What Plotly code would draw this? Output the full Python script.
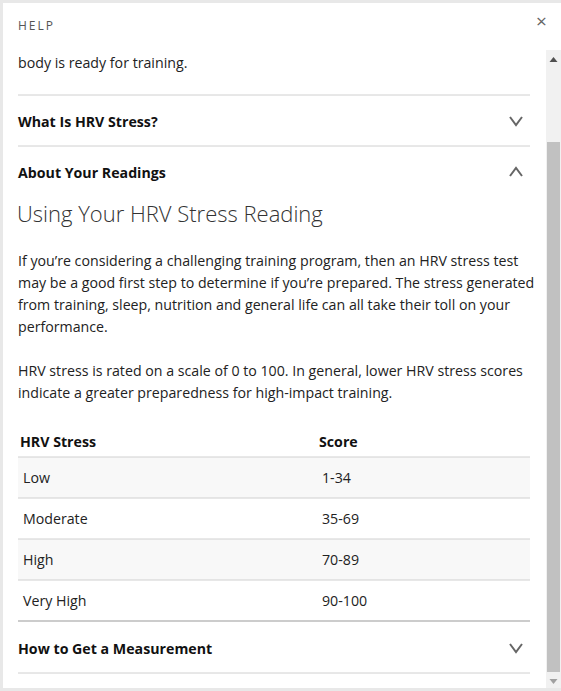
import plotly.graph_objects as go

W, H = 561, 691
FONT = "Open Sans"

intro_line = "body is ready for training."
sections_top = ["What Is HRV Stress?", "About Your Readings"]
heading = "Using Your HRV Stress Reading"
para1 = [
    "If you\u2019re considering a challenging training program, then an HRV stress test",
    "may be a good first step to determine if you\u2019re prepared. The stress generated",
    "from training, sleep, nutrition and general life can all take their toll on your",
    "performance.",
]
para2 = [
    "HRV stress is rated on a scale of 0 to 100. In general, lower HRV stress scores",
    "indicate a greater preparedness for high-impact training.",
]
table_header = ["HRV Stress", "Score"]
levels = ["Low", "Moderate", "High", "Very High"]
scores = ["1-34", "35-69", "70-89", "90-100"]
section_bottom = "How to Get a Measurement"

fig = go.Figure()
shapes = []
ann = []


def text(x, y, s, size=14.2, color="#222", bold=False, weight=None, anchor="left"):
    f = dict(family=FONT, size=size, color=color)
    if bold:
        f["weight"] = 700
    if weight:
        f["weight"] = weight
    # annotations carry ~2px of padding, pull them back
    ann.append(dict(x=x - 2 if anchor == "left" else x, y=y, text=s, showarrow=False,
                    xanchor=anchor, yanchor="middle", font=f, xref="x", yref="y"))


def hline(y, color="#d0d0d0", width=1):
    shapes.append(dict(type="line", x0=18, x1=530, y0=y, y1=y,
                       line=dict(color=color, width=width), layer="above"))


def chevron(y, up=False):
    d = -4 if up else 4
    shapes.append(dict(type="path", path=f"M 510 {y-d} L 516 {y+d} L 522 {y-d}",
                       line=dict(color="#666", width=2)))


# frame
shapes.append(dict(type="rect", x0=0, x1=W, y0=0, y1=H, fillcolor="#e8e8e8",
                   line_width=0, layer="below"))
shapes.append(dict(type="rect", x0=3, x1=W, y0=3, y1=688, fillcolor="white",
                   line_width=0, layer="below"))
# scrollbar
shapes.append(dict(type="rect", x0=546, x1=561, y0=50, y1=688, fillcolor="#f1f1f1",
                   line_width=0, layer="below"))
shapes.append(dict(type="rect", x0=547, x1=560, y0=142, y1=672, fillcolor="#c1c1c1",
                   line_width=0, layer="below"))
shapes.append(dict(type="path", path="M 549.5 62 L 553.5 57 L 557.5 62 Z",
                   fillcolor="#505050", line_width=0))
shapes.append(dict(type="path", path="M 549.5 679 L 553.5 684 L 557.5 679 Z",
                   fillcolor="#a0a0a0", line_width=0))

text(18, 25, "H\u2009E\u2009L\u2009P", size=12, color="#555")
text(541, 21, "\u00d7", size=19, color="#666", anchor="center")
text(18, 62, intro_line)

hline(95)
text(18, 121, sections_top[0], bold=True, color="#111")
chevron(121)
hline(146)
text(18, 172, sections_top[1], bold=True, color="#111")
chevron(172, up=True)

text(17, 213, heading, size=22, color="#333", weight=300)

for i, s in enumerate(para1):
    text(18, 260 + 22 * i, s)
for i, s in enumerate(para2):
    text(18, 370 + 22 * i, s)

# table
text(20, 441, table_header[0], bold=True, color="#111")
text(319, 441, table_header[1], bold=True, color="#111")
row_h = 41
top = 457
for i, (lv, sc) in enumerate(zip(levels, scores)):
    y0 = top + row_h * i
    if i % 2 == 0:
        shapes.append(dict(type="rect", x0=18, x1=530, y0=y0, y1=y0 + row_h,
                           fillcolor="#f8f8f8", line_width=0, layer="below"))
    text(23, y0 + row_h / 2, lv)
    text(322, y0 + row_h / 2, sc)
    hline(y0)
hline(top + row_h * len(levels), color="#cccccc", width=2)

text(18, 648, section_bottom, bold=True, color="#111")
chevron(648)
hline(673)

fig.update_layout(
    width=W, height=H, margin=dict(l=0, r=0, t=0, b=0),
    paper_bgcolor="white", plot_bgcolor="white",
    xaxis=dict(range=[0, W], visible=False, fixedrange=True),
    yaxis=dict(range=[H, 0], visible=False, fixedrange=True),
    shapes=shapes, annotations=ann, showlegend=False,
)
fig.write_html("out.html", config={"displayModeBar": False},
               post_script="document.body.style.margin='0';document.body.style.overflow='hidden';")
